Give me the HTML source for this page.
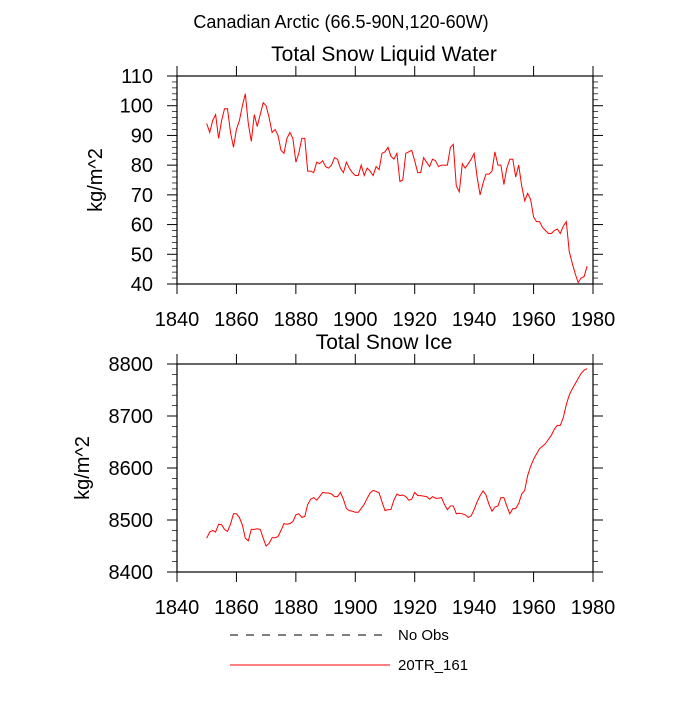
<!DOCTYPE html>
<html><head><meta charset="utf-8"><style>
body{margin:0;background:#fff;font-family:"Liberation Sans",sans-serif}
</style></head><body>
<svg id="c" width="700" height="700" xmlns="http://www.w3.org/2000/svg" font-family="Liberation Sans, sans-serif">
<text x="341" y="28" font-size="18" text-anchor="middle">Canadian Arctic (66.5-90N,120-60W)</text>
<g id="g1"></g><g id="g2"></g>
<g>
<line x1="230" y1="635" x2="385" y2="635" stroke="#000" stroke-width="1" stroke-dasharray="8,8"/>
<text x="398" y="640" font-size="15">No Obs</text>
<line x1="230" y1="665" x2="390" y2="665" stroke="#f00" stroke-width="1"/>
<text x="398" y="670" font-size="15">20TR_161</text>
</g>
</svg>
<script>
const startYear = 1850;
const xTicks = [1840,1860,1880,1900,1920,1940,1960,1980];
const liquidTicks = [40,50,60,70,80,90,100,110];
const iceTicks = [8400,8500,8600,8700,8800];
const liquidWater = [94,91,95,97,89,95,99,99,91,86,92,95,100,104,94,88,97,93,97,101,100,96,91,92,90,85,84,89,91,89,81,84,89,89,78,78,77.5,81,80.5,81.5,79.5,79,80,82.5,82,79,77.5,81,79,77.5,76.5,76.5,80,76.5,79,78,76.5,79.5,78.5,84,84.5,86,83,82,84,74.5,75,84,84.5,85,81.5,77.5,77.5,82.5,81,79.5,82,81.5,79.5,80,80,80,86,87,73,71,80.5,79,80.5,82,84,76,70,74,77,77,78,84.5,80,80,73.5,79,82,82,76,80,73,68,70.5,68.5,62.5,61,61,59,58,57,57,58,58.5,57,59.5,61,51,47,43.5,40.5,42,42.5,46];
const snowIce = [8465,8477,8480,8477,8492,8491,8482,8478,8492,8512,8512,8505,8490,8465,8460,8482,8482,8483,8482,8465,8450,8455,8466,8466,8468,8480,8493,8492,8493,8497,8510,8512,8505,8507,8530,8540,8543,8538,8545,8553,8552,8552,8550,8545,8545,8553,8540,8522,8518,8517,8515,8515,8522,8530,8542,8552,8557,8555,8552,8535,8518,8520,8520,8538,8550,8547,8548,8545,8538,8540,8553,8547,8547,8546,8545,8540,8545,8542,8542,8543,8530,8520,8527,8527,8512,8513,8512,8510,8505,8508,8520,8535,8547,8556,8548,8530,8517,8525,8527,8543,8543,8527,8512,8522,8522,8532,8550,8557,8585,8603,8617,8627,8637,8642,8647,8655,8663,8675,8682,8682,8697,8722,8740,8752,8762,8772,8782,8788,8791];
const NS="http://www.w3.org/2000/svg";
const L=177,R=593;
function xs(y){return L+(y-1840)/140*(R-L);}
function mk(tag,attrs,parent){const e=document.createElementNS(NS,tag);for(const k in attrs)e.setAttribute(k,attrs[k]);parent.appendChild(e);return e;}
function panel(gid,top,bot,ymin,ymax,yTicks,minorStep,data,title,prefix){
  const g=document.getElementById(gid);
  const ys=v=>bot-(v-ymin)/(ymax-ymin)*(bot-top);
  const fr=mk('rect',{x:L,y:top,width:R-L,height:bot-top,fill:'none',stroke:'#000','stroke-width':1.2},g);
  
  
  const t=mk('text',{x:384,y:top-15,'font-size':21,'text-anchor':'middle'},g);t.textContent=title;
  
  
  xTicks.forEach(v=>{const x=xs(v);
    mk('line',{x1:x,y1:top,x2:x,y2:top-10,stroke:'#000'},g);
    mk('line',{x1:x,y1:bot,x2:x,y2:bot+10,stroke:'#000'},g);
    const tx=mk('text',{x:x,y:bot+42,'font-size':20,'text-anchor':'middle'},g);tx.textContent=v;
    
    
  });
  for(let v=ymin;v<=ymax+1e-9;v+=minorStep){const y=ys(v);
    const major=yTicks.some(m=>Math.abs(m-v)<1e-6);const len=major?10:5;
    mk('line',{x1:L,y1:y,x2:L-len,y2:y,stroke:'#000','stroke-width':major?1:0.7},g);
    mk('line',{x1:R,y1:y,x2:R+len,y2:y,stroke:'#000','stroke-width':major?1:0.7},g);}
  yTicks.forEach(v=>{const tx=mk('text',{x:L-24,y:ys(v)+7,'font-size':20,'text-anchor':'end'},g);tx.textContent=v;
    
    });
  const yl=mk('text',{x:0,y:0,'font-size':20,'text-anchor':'middle',transform:`translate(${prefix==='liquid'?102:89},${(top+bot)/2}) rotate(-90)`},g);yl.textContent='kg/m^2';
  
  
  const pts=data.map((v,i)=>xs(startYear+i).toFixed(1)+','+ys(v).toFixed(1)).join(' ');
  const pl=mk('polyline',{points:pts,fill:'none',stroke:'#f00','stroke-width':1},g);
  
  
}
panel('g1',76,284,40,110,liquidTicks,2,liquidWater,'Total Snow Liquid Water','liquid');
panel('g2',364,572,8400,8800,iceTicks,20,snowIce,'Total Snow Ice','ice');
</script>
</body></html>
